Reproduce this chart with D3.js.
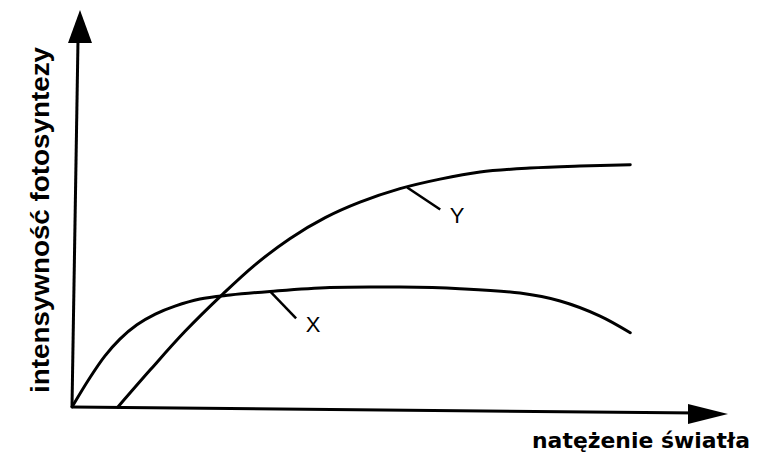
<!DOCTYPE html>
<html>
<head>
<meta charset="utf-8">
<script src="https://cdn.jsdelivr.net/npm/d3@7"></script>
<style>
  body { margin: 0; background: #fff; }
</style>
</head>
<body>
<script>
// curve data (light intensity vs photosynthesis rate, arbitrary units)
var xLight = [0, 0.27, 0.50, 0.73, 0.99, 1.27, 1.57, 1.95, 2.41, 3.02, 3.93, 5.00, 5.91, 6.83, 7.44, 8.05, 8.51];
var xRate  = [0, 0.73, 1.28, 1.71, 2.07, 2.34, 2.54, 2.72, 2.82, 2.91, 3.01, 3.02, 2.98, 2.87, 2.67, 2.29, 1.87];
var yLight = [0.70, 1.19, 1.72, 2.29, 2.79, 3.32, 3.86, 4.39, 5.00, 5.61, 6.22, 6.98, 7.74, 8.51];
var yRate  = [0, 0.93, 1.90, 2.83, 3.58, 4.24, 4.77, 5.16, 5.50, 5.74, 5.92, 6.02, 6.07, 6.10];
var seriesNames = ["X", "Y"];
// where the label leaders touch the curves
var leaderLight = [3.02, 5.11];
var leaderRate  = [2.91, 5.53];
var xTitle = "natężenie światła";
var yTitle = "intensywność fotosyntezy";

const width = 757, height = 452;

const svg = d3.select("body")
    .append("svg")
    .attr("width", width)
    .attr("height", height);

const x = d3.scaleLinear().domain([0, 10]).range([72, 728]);
const y = d3.scaleLinear().domain([0, 10]).range([407, 10]);

// axes (the scan is slightly skewed)
svg.append("line")
    .attr("x1", x(0)).attr("y1", y(0))
    .attr("x2", x(10) - 30).attr("y2", y(0) + 6)
    .attr("stroke", "#000").attr("stroke-width", 3);
svg.append("line")
    .attr("x1", x(0)).attr("y1", y(0))
    .attr("x2", x(0) + 6).attr("y2", y(10) + 30)
    .attr("stroke", "#000").attr("stroke-width", 3);

// arrow heads
svg.append("path")
    .attr("d", "M" + x(10) + "," + (y(0) + 7) + " L" + (x(10) - 40) + "," + (y(0) - 3) +
               " L" + (x(10) - 40) + "," + (y(0) + 17) + " Z")
    .attr("fill", "#000");
svg.append("path")
    .attr("d", "M" + (x(0) + 8) + "," + y(10) + " L" + (x(0) - 4) + "," + (y(10) + 33) +
               " L" + (x(0) + 20) + "," + (y(10) + 33) + " Z")
    .attr("fill", "#000");

var line = d3.line()
    .x(d => x(d[0]))
    .y(d => y(d[1]))
    .curve(d3.curveCatmullRom.alpha(0.5));

var curves = [d3.zip(xLight, xRate), d3.zip(yLight, yRate)];

svg.selectAll(".curve")
    .data(curves)
    .enter()
    .append("path")
    .attr("class", "curve")
    .attr("d", line)
    .attr("fill", "none")
    .attr("stroke", "#000")
    .attr("stroke-width", 3)
    .attr("stroke-linecap", "round");

// leaders + labels
seriesNames.forEach(function(name, i) {
    var px = x(leaderLight[i]), py = y(leaderRate[i]);
    var dx = i == 0 ? 26 : 33, dy = i == 0 ? 27 : 22;
    svg.append("line")
        .attr("x1", px).attr("y1", py)
        .attr("x2", px + dx).attr("y2", py + dy)
        .attr("stroke", "#000").attr("stroke-width", 2.5);
    svg.append("text")
        .attr("x", px + dx + 17)
        .attr("y", py + dy + 14)
        .attr("text-anchor", "middle")
        .attr("font-family", "Liberation Sans, Arial, sans-serif")
        .attr("font-size", "22px")
        .text(name);
});

// axis titles
svg.append("text")
    .attr("x", 532).attr("y", 448)
    .attr("font-family", "DejaVu Sans, sans-serif")
    .attr("font-weight", "bold")
    .attr("font-size", "22px")
    .attr("textLength", 218)
    .attr("lengthAdjust", "spacingAndGlyphs")
    .text(xTitle);

svg.append("text")
    .attr("transform", "translate(49,393) rotate(-90)")
    .attr("font-family", "Liberation Sans, Arial, sans-serif")
    .attr("font-weight", "bold")
    .attr("font-size", "25px")
    .attr("textLength", 346)
    .attr("lengthAdjust", "spacingAndGlyphs")
    .text(yTitle);
</script>
</body>
</html>
